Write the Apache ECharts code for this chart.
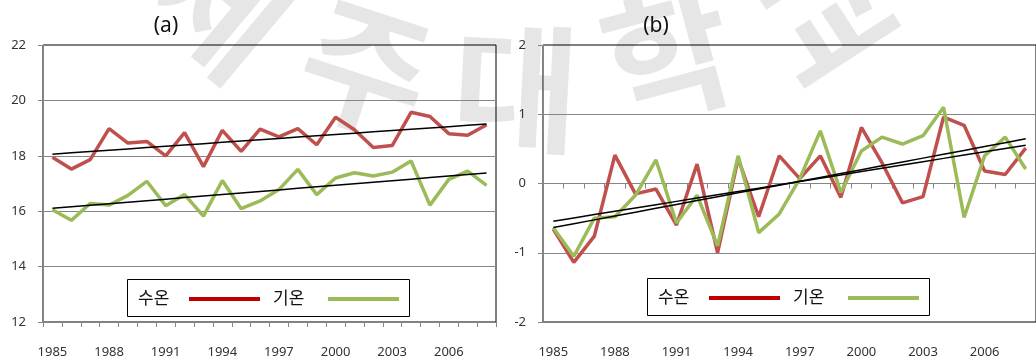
<!DOCTYPE html>
<html>
<head>
<meta charset="utf-8">
<script src="https://cdn.jsdelivr.net/npm/echarts@6/dist/echarts.min.js"></script>
<style>
  html, body { margin: 0; padding: 0; background: #fff; }
  #chart { width: 1036px; height: 361px; }
</style>
</head>
<body>
<div id="chart"></div>
<script>
// Category labels (years)
const years = ['1985','1986','1987','1988','1989','1990','1991','1992','1993','1994','1995','1996',
               '1997','1998','1999','2000','2001','2002','2003','2004','2005','2006','2007','2008'];

// (a) annual mean temperature, °C
const waterTempA = [17.95,17.52,17.86,18.98,18.46,18.52,18.00,18.84,17.61,18.92,18.16,18.96,
                    18.68,18.98,18.40,19.39,18.94,18.30,18.37,19.57,19.42,18.80,18.74,19.12];
const airTempA   = [16.05,15.67,16.28,16.22,16.57,17.08,16.20,16.60,15.82,17.11,16.09,16.37,
                    16.78,17.51,16.60,17.20,17.39,17.27,17.41,17.81,16.22,17.15,17.45,16.93];

// (b) anomalies, °C
const waterAnomB = [-0.66,-1.14,-0.76,0.41,-0.15,-0.08,-0.60,0.28,-1.00,0.36,-0.48,0.40,
                    0.07,0.40,-0.20,0.81,0.30,-0.28,-0.19,0.96,0.84,0.18,0.13,0.51];
const airAnomB   = [-0.64,-1.05,-0.50,-0.48,-0.17,0.34,-0.57,-0.17,-0.90,0.40,-0.71,-0.44,
                    0.07,0.76,-0.13,0.47,0.67,0.57,0.69,1.10,-0.49,0.40,0.67,0.21];

// Axis ranges / tick steps
const yTicksA = { min: 12, max: 22, interval: 2 };
const yTicksB = { min: -2, max: 2, interval: 1 };

// Series names
const nameWater = '수온';
const nameAir = '기온';

// Least-squares linear trend evaluated at every category index
function linearTrend(values) {
  const n = values.length;
  let sx = 0, sy = 0, sxx = 0, sxy = 0;
  values.forEach((v, i) => { sx += i; sy += v; sxx += i * i; sxy += i * v; });
  const slope = (n * sxy - sx * sy) / (n * sxx - sx * sx);
  const intercept = (sy - slope * sx) / n;
  return values.map((_, i) => intercept + slope * i);
}

const RED = '#c0504d';
const GREEN = '#9bbb59';
const LEGEND_RED = '#c00000';
const AXIS_GREY = '#868686';
const TEXT = '#333333';
const NUM_FONT = '"Noto Sans", "DejaVu Sans", sans-serif';
const KR_FONT = '"Noto Sans CJK KR", "Noto Sans", sans-serif';

const chart = echarts.init(document.getElementById('chart'), null, { renderer: 'canvas' });

function valueAxis(gridIndex, ticks) {
  return {
    gridIndex, type: 'value', min: ticks.min, max: ticks.max, interval: ticks.interval,
    axisLine: { show: true, lineStyle: { color: AXIS_GREY, width: 1 } },
    axisTick: { show: true, length: 5, lineStyle: { color: AXIS_GREY } },
    axisLabel: { margin: 17, color: TEXT, fontSize: 13, fontFamily: NUM_FONT },
    splitLine: { show: true, showMinLine: false, showMaxLine: false, lineStyle: { color: AXIS_GREY, width: 1 } }
  };
}

function lineSeries(name, data, color, axisIdx, z) {
  return {
    name, type: 'line', data, xAxisIndex: axisIdx, yAxisIndex: axisIdx === 0 ? 0 : 1,
    symbol: 'none', smooth: false, z,
    lineStyle: { color, width: 3.5 }, itemStyle: { color },
    emphasis: { disabled: true }, animation: false
  };
}

function trendSeries(values, axisIdx) {
  return {
    type: 'line', data: linearTrend(values), xAxisIndex: axisIdx, yAxisIndex: axisIdx === 0 ? 0 : 1,
    symbol: 'none', z: 5, lineStyle: { color: '#000', width: 1.5 },
    emphasis: { disabled: true }, animation: false, silent: true
  };
}

// Legend box drawn as a small graphic group
function legendBox(left, top) {
  const midY = 19;
  return {
    type: 'group', x: left, y: top, z: 20,
    children: [
      { type: 'rect', shape: { x: 0.5, y: 0.5, width: 282, height: 37 },
        style: { fill: '#fff', stroke: '#000', lineWidth: 1 } },
      { type: 'text', x: 11, y: midY,
        style: { text: nameWater, fill: '#111', font: '17px ' + KR_FONT, verticalAlign: 'middle', align: 'left' } },
      { type: 'line', shape: { x1: 62, y1: midY + 1, x2: 133, y2: midY + 1 },
        style: { stroke: LEGEND_RED, lineWidth: 4 } },
      { type: 'text', x: 146, y: midY,
        style: { text: nameAir, fill: '#111', font: '17px ' + KR_FONT, verticalAlign: 'middle', align: 'left' } },
      { type: 'line', shape: { x1: 201, y1: midY + 1, x2: 272, y2: midY + 1 },
        style: { stroke: GREEN, lineWidth: 4 } }
    ]
  };
}

// Faint arched background lettering
const stampChars = [
  { ch: '제', x: 222, y: 6, deg: -40 },
  { ch: '주', x: 366, y: 68, deg: -18 },
  { ch: '대', x: 516, y: 88, deg: -3 },
  { ch: '학', x: 668, y: 55, deg: 15 },
  { ch: '교', x: 826, y: 16, deg: 33 }
];
const stamp = stampChars.map(c => ({
  type: 'text', x: c.x, y: c.y, rotation: c.deg * Math.PI / 180, z: -5, silent: true,
  style: { text: c.ch, fill: 'rgba(160,160,160,0.26)', font: 'bold 138px ' + KR_FONT,
           align: 'center', verticalAlign: 'middle',
           shadowBlur: 6, shadowColor: 'rgba(160,160,160,0.25)' }
}));

const option = {
  animation: false,
  backgroundColor: '#fff',
  grid: [
    { left: 43, top: 45, width: 453, height: 277, show: true, borderColor: '#000', borderWidth: 1, backgroundColor: 'transparent' },
    { left: 543, top: 45, width: 496, height: 277, show: true, borderColor: '#000', borderWidth: 1, backgroundColor: 'transparent' }
  ],
  xAxis: [
    { gridIndex: 0, type: 'category', data: years, boundaryGap: true, position: 'bottom',
      axisLine: { show: true, lineStyle: { color: AXIS_GREY } },
      axisTick: { show: true, interval: 0, length: 5, lineStyle: { color: AXIS_GREY } },
      axisLabel: { interval: 2, margin: 24, color: TEXT, fontSize: 13, fontFamily: NUM_FONT },
      splitLine: { show: false } },
    { gridIndex: 1, type: 'category', data: years, boundaryGap: true, position: 'bottom',
      axisLine: { show: true, onZero: true, lineStyle: { color: AXIS_GREY } },
      axisTick: { show: true, interval: 0, length: 5, lineStyle: { color: AXIS_GREY } },
      axisLabel: { show: false }, splitLine: { show: false } },
    { gridIndex: 1, type: 'category', data: years, boundaryGap: true, position: 'bottom',
      axisLine: { show: false, onZero: false }, axisTick: { show: false },
      axisLabel: { interval: 2, margin: 24, color: TEXT, fontSize: 13, fontFamily: NUM_FONT },
      splitLine: { show: false } }
  ],
  yAxis: [ valueAxis(0, yTicksA), valueAxis(1, yTicksB) ],
  series: [
    lineSeries(nameWater, waterTempA, RED, 0, 2),
    lineSeries(nameAir, airTempA, GREEN, 0, 3),
    trendSeries(waterTempA, 0),
    trendSeries(airTempA, 0),
    lineSeries(nameWater, waterAnomB, RED, 1, 2),
    lineSeries(nameAir, airAnomB, GREEN, 1, 3),
    trendSeries(waterAnomB, 1),
    trendSeries(airAnomB, 1)
  ],
  graphic: [
    ...stamp,
    { type: 'text', x: 166, y: 26, z: 20,
      style: { text: '(a)', fill: '#111', font: '21px ' + NUM_FONT, align: 'center', verticalAlign: 'middle' } },
    { type: 'text', x: 656, y: 26, z: 20,
      style: { text: '(b)', fill: '#111', font: '21px ' + NUM_FONT, align: 'center', verticalAlign: 'middle' } },
    legendBox(127, 279),
    legendBox(647, 278)
  ]
};

chart.setOption(option);
</script>
</body>
</html>
